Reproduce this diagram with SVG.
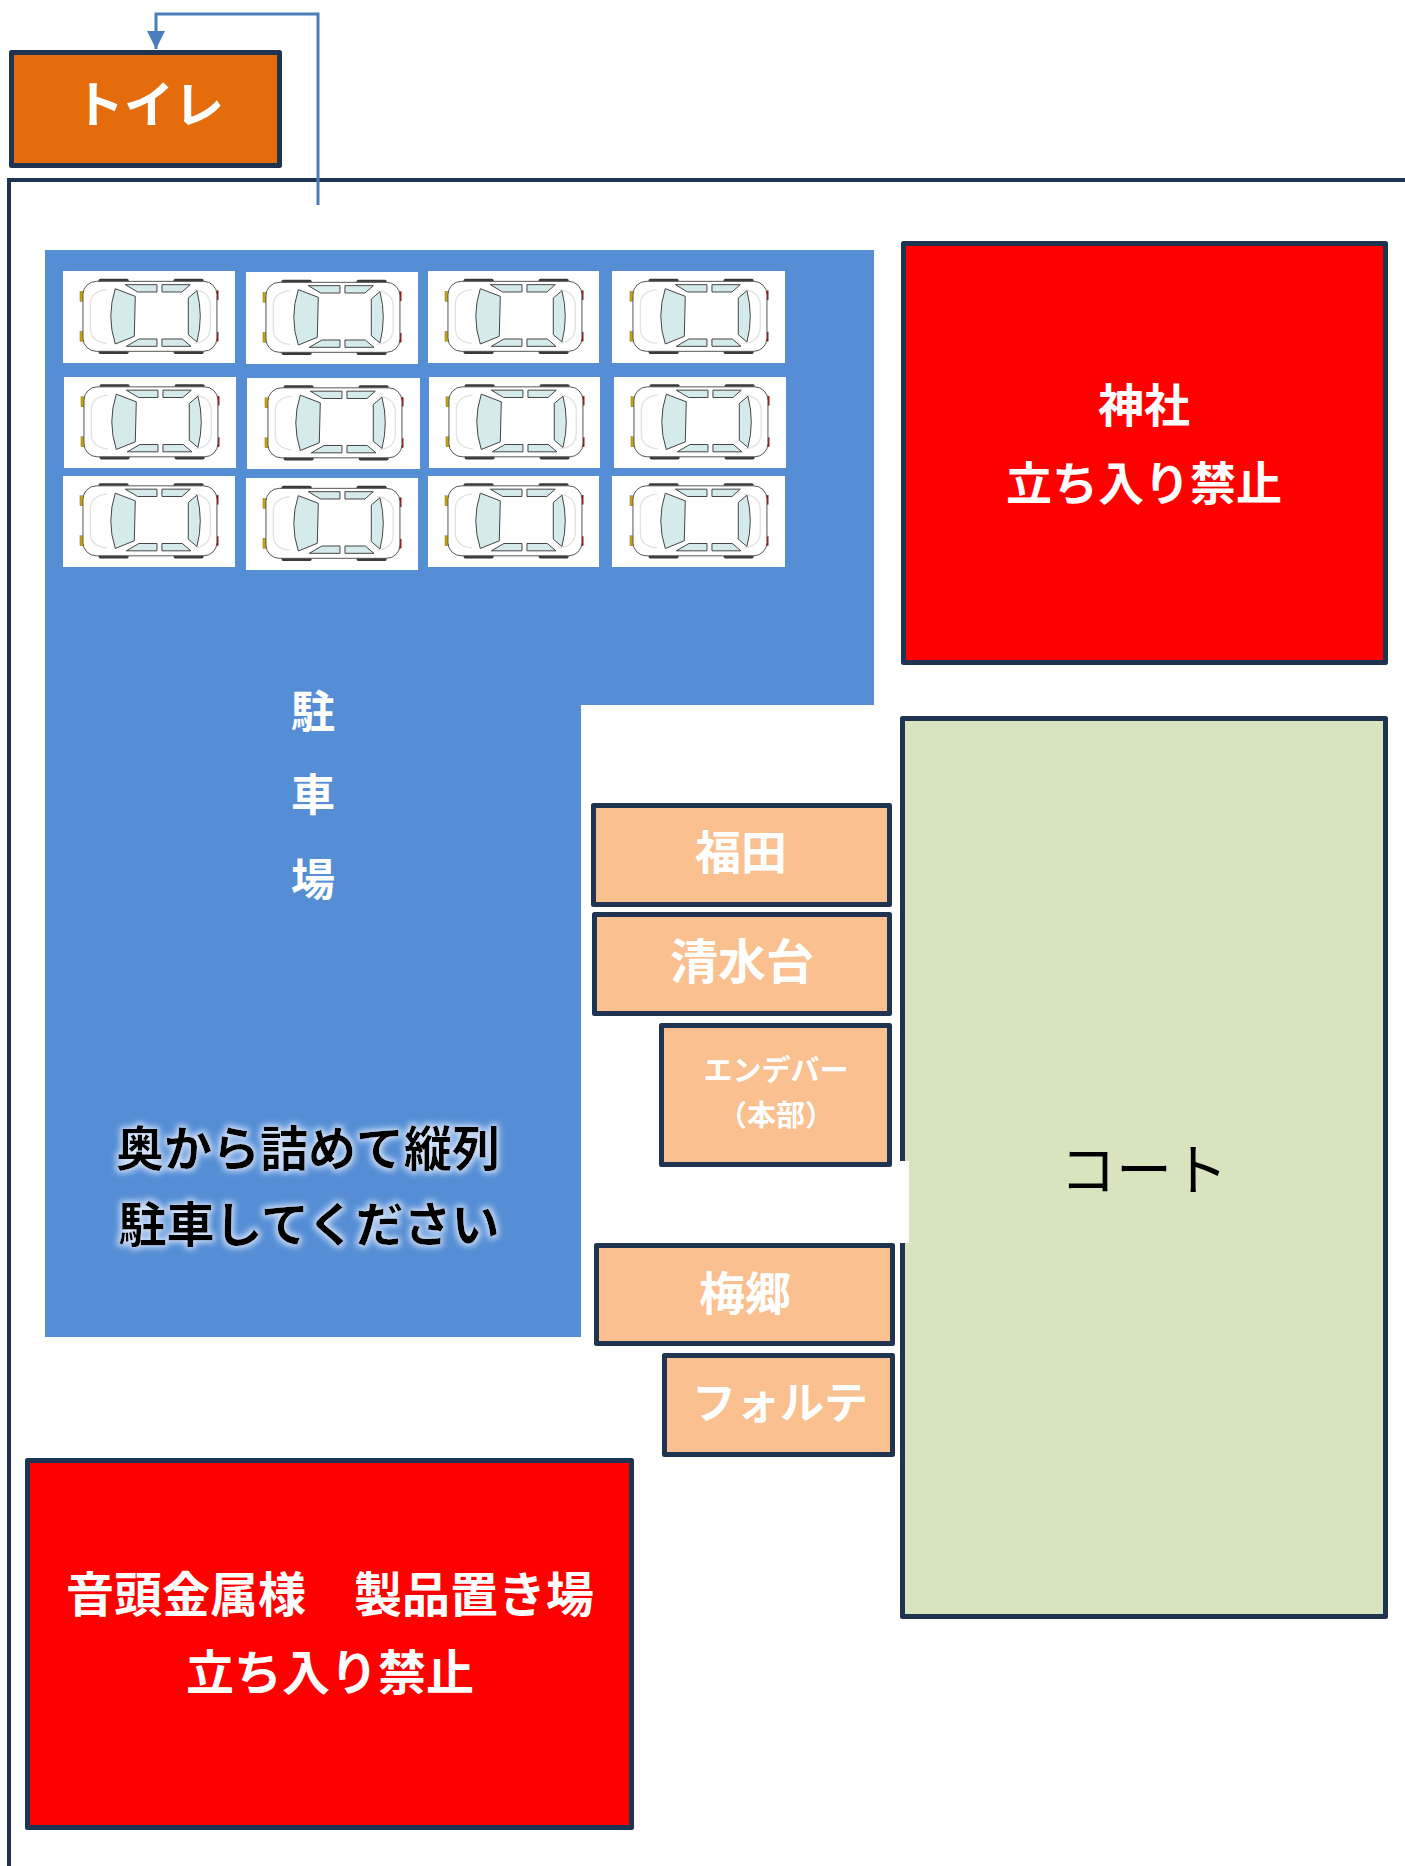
<svg xmlns="http://www.w3.org/2000/svg" xmlns:xlink="http://www.w3.org/1999/xlink" width="1405" height="1866" viewBox="0 0 1405 1866">
<style>
.box{stroke:#1e3450;stroke-width:5;stroke-linejoin:round}
.t{font-family:"Noto Sans CJK JP","Noto Sans CJK SC",sans-serif;font-weight:700;text-anchor:middle}
.w{fill:#ffffff}
.k{fill:#000000}
.slot{fill:#ffffff}
.win{fill:#d5eaea;stroke:#444;stroke-width:3;stroke-linejoin:round}
</style>
<defs>
<marker id="arr" viewBox="0 0 10 10" refX="10" refY="5" markerWidth="6" markerHeight="6" orient="auto" markerUnits="strokeWidth">
<path d="M0,0 L10,5 L0,10 Z" fill="#4a7ebb"/>
</marker>
<filter id="glow" x="-10%" y="-30%" width="120%" height="160%">
<feMorphology in="SourceAlpha" operator="dilate" radius="2" result="d"/>
<feGaussianBlur in="d" stdDeviation="3" result="b"/>
<feFlood flood-color="#e8f0ff" flood-opacity="0.85"/>
<feComposite in2="b" operator="in" result="g"/>
<feMerge><feMergeNode in="g"/><feMergeNode in="SourceGraphic"/></feMerge>
</filter>
<g id="car">
<rect x="115" y="32" width="90" height="14" rx="5" fill="#3a3a3a"/>
<rect x="340" y="32" width="90" height="14" rx="5" fill="#3a3a3a"/>
<rect x="115" y="244" width="90" height="14" rx="5" fill="#3a3a3a"/>
<rect x="340" y="244" width="90" height="14" rx="5" fill="#3a3a3a"/>
<rect x="59" y="70" width="10" height="30" fill="#c9a400" stroke="#555" stroke-width="1"/>
<rect x="59" y="190" width="10" height="30" fill="#c9a400" stroke="#555" stroke-width="1"/>
<rect x="464" y="68" width="10" height="28" fill="#c00000" stroke="#555" stroke-width="1"/>
<rect x="464" y="192" width="10" height="28" fill="#c00000" stroke="#555" stroke-width="1"/>
<rect x="68" y="40" width="402" height="210" rx="40" fill="#ffffff" stroke="#555" stroke-width="3"/>
<path d="M140,65 Q90,70 90,110 L90,180 Q90,222 140,226 M400,65 Q448,70 450,110 L450,180 Q448,222 400,226" fill="none" stroke="#e2e2e2" stroke-width="4"/>
<path class="win" d="M165,62 L225,85 L222,205 L165,228 Q138,145 165,62 Z"/>
<path class="win" d="M410,68 Q430,145 410,222 L384,200 L384,90 Z"/>
<path class="win" d="M195,50 L290,50 L290,72 L232,72 Z"/>
<path class="win" d="M305,50 L390,50 L365,72 L305,72 Z"/>
<path class="win" d="M198,235 L290,235 L290,213 L236,213 Z"/>
<path class="win" d="M305,235 L392,235 L366,213 L305,213 Z"/>
</g>
</defs>

<g id="site-boundary">
<path d="M9,1866 L9,180 L1405,180" fill="none" stroke="#1e3450" stroke-width="4"/>
</g>

<g id="parking">
<path d="M45,250 L874,250 L874,705 L581,705 L581,1337 L45,1337 Z" fill="#558ed5"/>
<g id="cars">
<rect class="slot" x="63" y="271" width="172" height="92"/>
<rect class="slot" x="246" y="272" width="172" height="92"/>
<rect class="slot" x="428" y="271" width="171" height="92"/>
<rect class="slot" x="612" y="271" width="173" height="92"/>
<rect class="slot" x="64" y="377" width="172" height="91"/>
<rect class="slot" x="247" y="378" width="173" height="91"/>
<rect class="slot" x="429" y="377" width="171" height="91"/>
<rect class="slot" x="614" y="377" width="172" height="91"/>
<rect class="slot" x="63" y="476" width="172" height="91"/>
<rect class="slot" x="246" y="478" width="172" height="92"/>
<rect class="slot" x="428" y="476" width="171" height="91"/>
<rect class="slot" x="612" y="476" width="173" height="91"/>
<use xlink:href="#car" href="#car" transform="translate(60.3,268) scale(0.3333)"/>
<use xlink:href="#car" href="#car" transform="translate(243.3,269) scale(0.3333)"/>
<use xlink:href="#car" href="#car" transform="translate(425.3,268) scale(0.3333)"/>
<use xlink:href="#car" href="#car" transform="translate(610.3,268) scale(0.3333)"/>
<use xlink:href="#car" href="#car" transform="translate(61.3,373.5) scale(0.3333)"/>
<use xlink:href="#car" href="#car" transform="translate(245.3,374.5) scale(0.3333)"/>
<use xlink:href="#car" href="#car" transform="translate(426.3,373.5) scale(0.3333)"/>
<use xlink:href="#car" href="#car" transform="translate(611.3,373.5) scale(0.3333)"/>
<use xlink:href="#car" href="#car" transform="translate(60.3,472.5) scale(0.3333)"/>
<use xlink:href="#car" href="#car" transform="translate(243.3,475) scale(0.3333)"/>
<use xlink:href="#car" href="#car" transform="translate(425.3,472.5) scale(0.3333)"/>
<use xlink:href="#car" href="#car" transform="translate(610.3,472.5) scale(0.3333)"/>
</g>
<text class="t w" x="313" y="728" font-size="44">駐</text>
<text class="t w" x="313" y="811" font-size="44">車</text>
<text class="t w" x="313" y="896" font-size="44">場</text>
<g filter="url(#glow)">
<text class="t k" x="308" y="1166" font-size="48">奥から詰めて縦列</text>
<text class="t k" x="309" y="1242" font-size="48">駐車してください</text>
</g>
</g>

<g id="toilet">
<rect class="box" x="11.5" y="52.5" width="268" height="113" fill="#e46c0a"/>
<text class="t w" x="149" y="123" font-size="50">トイレ</text>
</g>

<g id="shrine">
<rect class="box" x="903.5" y="243.5" width="482" height="419" fill="#ff0000"/>
<text class="t w" x="1144" y="422" font-size="46">神社</text>
<text class="t w" x="1144" y="500" font-size="46">立ち入り禁止</text>
</g>

<g id="court">
<rect class="box" x="902.5" y="718.5" width="483" height="898" fill="#d7e4bd"/>
<rect x="896" y="1161" width="13" height="82" fill="#ffffff"/>
<text x="1144" y="1190" font-size="56" text-anchor="middle" font-family="'Noto Sans CJK JP','Noto Sans CJK SC',sans-serif" fill="#000">コート</text>
</g>

<g id="fukuda">
<rect class="box" x="593.5" y="805.5" width="296" height="99" fill="#fac090"/>
<text class="t w" x="741" y="869" font-size="46">福田</text>
</g>
<g id="shimizudai">
<rect class="box" x="594.5" y="914.5" width="295" height="99" fill="#fac090"/>
<text class="t w" x="742" y="979" font-size="48">清水台</text>
</g>
<g id="endeavor">
<rect class="box" x="661.5" y="1025.5" width="228" height="139" fill="#fac090"/>
<text class="t w" x="776" y="1081" font-size="29">エンデバー</text>
<text class="t w" x="776" y="1126" font-size="29">（本部）</text>
</g>
<g id="umesato">
<rect class="box" x="596.5" y="1245.5" width="296" height="98" fill="#fac090"/>
<text class="t w" x="745" y="1310" font-size="46">梅郷</text>
</g>
<g id="forte">
<rect class="box" x="664.5" y="1355.5" width="228" height="99" fill="#fac090"/>
<text class="t w" x="780" y="1419" font-size="44">フォルテ</text>
</g>

<g id="storage">
<rect class="box" x="27.5" y="1460.5" width="604" height="367" fill="#ff0000"/>
<text class="t w" x="330" y="1612" font-size="48">音頭金属様　製品置き場</text>
<text class="t w" x="330" y="1690" font-size="48">立ち入り禁止</text>
</g>

<g id="connectors">
<path d="M318,205 L318,14 L156,14 L156,49" fill="none" stroke="#4a7ebb" stroke-width="3" marker-end="url(#arr)"/>
</g>
</svg>
